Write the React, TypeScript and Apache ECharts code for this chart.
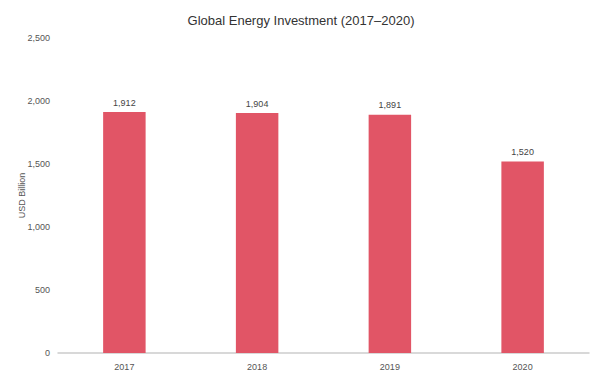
import React, { useEffect, useRef } from "react";
import * as echarts from "echarts";

const categories = ["2017", "2018", "2019", "2020"];
const investment = [1912, 1904, 1891, 1520];
const yTicks = [0, 500, 1000, 1500, 2000, 2500];

export default function App() {
  const ref = useRef<HTMLDivElement>(null);
  useEffect(() => {
    if (!ref.current) return;
    const chart = echarts.init(ref.current, undefined, { renderer: "svg" });
    chart.setOption({
      animation: false,
      textStyle: { fontFamily: "Liberation Sans, Arial, sans-serif" },
      title: {
        text: "Global Energy Investment (2017\u20132020)",
        left: "center",
        top: 9,
        textStyle: { fontSize: 13, fontWeight: "normal", color: "#333" },
      },
      grid: { left: 58, right: 13, top: 38, bottom: 26 },
      xAxis: {
        type: "category",
        data: categories,
        axisLine: { lineStyle: { color: "#ccc", width: 1.5 } },
        axisTick: { show: false },
        axisLabel: { color: "#555", fontSize: 9, margin: 9 },
      },
      yAxis: {
        type: "value",
        min: yTicks[0],
        max: yTicks[yTicks.length - 1],
        interval: 500,
        name: "USD Billion",
        nameLocation: "middle",
        nameGap: 32,
        nameMoveOverlap: false,
        nameTextStyle: { color: "#555", fontSize: 9 },
        splitLine: { show: false },
        axisLine: { show: false },
        axisTick: { show: false },
        axisLabel: {
          color: "#555",
          fontSize: 9,
          margin: 8,
          formatter: (v: number) => v.toLocaleString("en-US"),
        },
      },
      series: [
        {
          type: "bar",
          data: investment,
          barWidth: "32%",
          itemStyle: { color: "#E15566" },
          label: {
            show: true,
            position: "top",
            distance: 5,
            color: "#444",
            fontSize: 9,
            formatter: (p: any) => Number(p.value).toLocaleString("en-US"),
          },
        },
      ],
    });
    return () => chart.dispose();
  }, []);
  return (
    <div
      ref={ref}
      style={{ position: "absolute", left: 0, top: 0, width: 602, height: 379 }}
    />
  );
}
